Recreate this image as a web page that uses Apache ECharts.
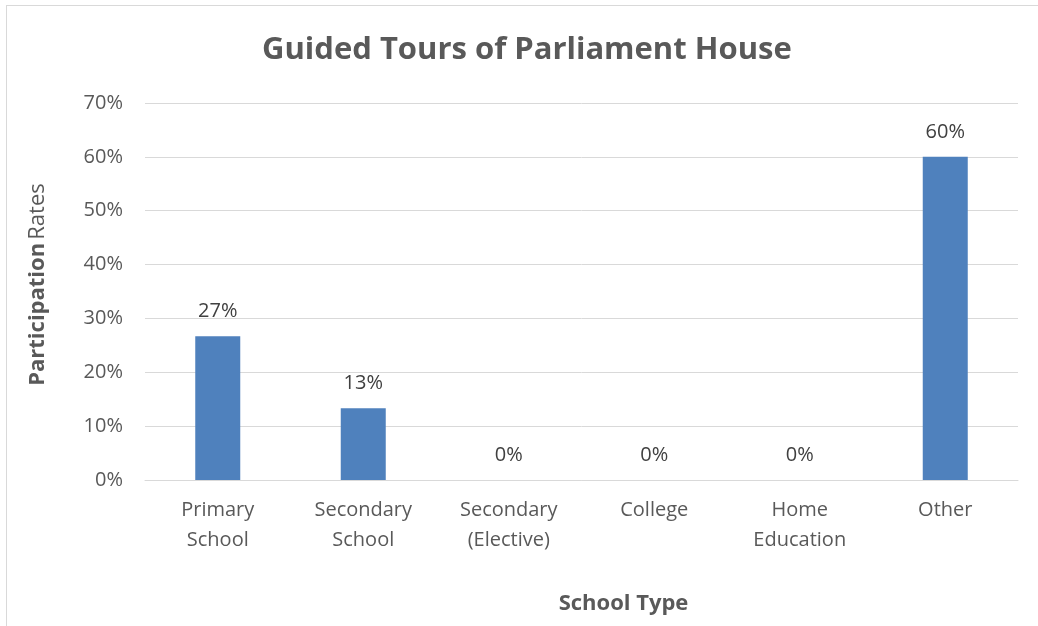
<!DOCTYPE html>
<html>
<head>
<meta charset="utf-8">
<script src="https://cdn.jsdelivr.net/npm/echarts@6/dist/echarts.min.js"></script>
<style>
  html, body { margin: 0; padding: 0; background: #fff; }
  #frame { position: absolute; left: 6px; top: 5px; width: 1040px; height: 640px;
           border-left: 1px solid #d9d9d9; border-top: 1px solid #d9d9d9; }
  #chart { width: 1038px; height: 626px; }
</style>
</head>
<body>
<div id="frame"></div>
<div id="chart"></div>
<script>
// school types along the x axis
const categories = ['Primary\nSchool', 'Secondary\nSchool', 'Secondary\n(Elective)', 'College', 'Home\nEducation', 'Other'];
// participation rate, percent
const rates = [26.67, 13.33, 0, 0, 0, 60];

const textColor = '#595959';
const font = '"Open Sans", "Liberation Sans", sans-serif';

let myChart = echarts.init(document.getElementById('chart'));
let option = {
    backgroundColor: 'transparent',
    textStyle: { fontFamily: font },
    title: {
        text: 'Guided Tours of Parliament House',
        left: 257,
        top: 30,
        textStyle: { color: textColor, fontSize: 31, fontWeight: 'bold', fontFamily: font }
    },
    grid: { left: 145, right: 20, top: 103, bottom: 146 },
    xAxis: {
        type: 'category',
        data: categories,
        name: 'School Type',
        nameLocation: 'middle',
        nameGap: 113,
        nameTextStyle: { color: textColor, fontSize: 22, fontWeight: 'bold', padding: [0, 0, 0, 84] },
        axisLine: { lineStyle: { color: '#d9d9d9', width: 1 } },
        axisTick: { show: false },
        axisLabel: { color: textColor, fontSize: 20, lineHeight: 30, margin: 15, interval: 0 }
    },
    yAxis: {
        type: 'value',
        min: 0,
        max: 70,
        interval: 10,
        name: '{b|Participation} {n|Rates}',
        nameLocation: 'middle',
        nameGap: 96,
        nameTextStyle: {
            padding: [0, 0, 0, 14],
            rich: {
                b: { color: textColor, fontSize: 22, fontWeight: 'bold', fontFamily: font },
                n: { color: textColor, fontSize: 22, fontFamily: font }
            }
        },
        axisLine: { show: false },
        axisTick: { show: false },
        splitLine: { lineStyle: { color: '#d9d9d9', width: 1 } },
        axisLabel: { color: textColor, fontSize: 20, margin: 22, formatter: '{value}%' }
    },
    series: [
        {
            type: 'bar',
            data: rates,
            barWidth: 45,
            itemStyle: { color: '#4f81bd' },
            label: {
                show: true,
                position: 'top',
                distance: 15,
                color: '#404040',
                fontSize: 20,
                formatter: (p) => Math.round(p.value) + '%'
            }
        }
    ]
};
myChart.setOption(option);
</script>
</body>
</html>
